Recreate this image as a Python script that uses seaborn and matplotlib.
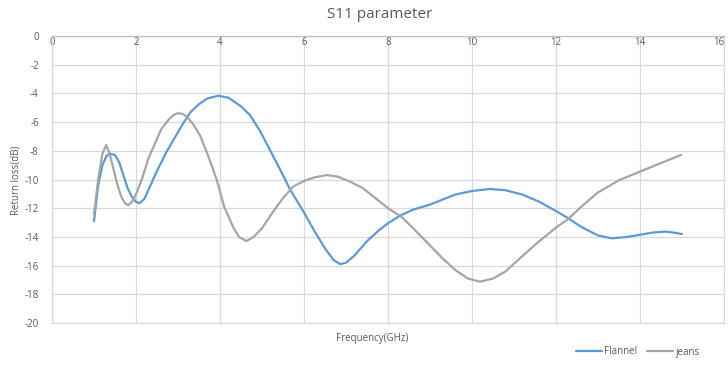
import matplotlib
matplotlib.use("Agg")
import matplotlib.pyplot as plt
import seaborn as sns
import pandas as pd

freq_flannel = [1.00, 1.10, 1.20, 1.30, 1.38, 1.50, 1.60, 1.70, 1.80, 1.90, 2.00, 2.08, 2.20, 2.33,
                2.50, 2.73, 2.90, 3.12, 3.30, 3.50, 3.70, 3.96, 4.20, 4.50, 4.71, 4.95, 5.20, 5.43,
                5.67, 6.00, 6.25, 6.50, 6.70, 6.86, 7.00, 7.20, 7.50, 7.80, 8.00, 8.30, 8.60, 9.00,
                9.30, 9.60, 10.00, 10.43, 10.80, 11.20, 11.60, 12.00, 12.29, 12.60, 13.00, 13.33,
                13.70, 14.00, 14.30, 14.60, 14.80, 15.00]
rl_flannel = [-12.9, -10.4, -9.0, -8.35, -8.2, -8.3, -8.8, -9.7, -10.6, -11.2, -11.55, -11.66, -11.35, -10.5,
              -9.4, -8.06, -7.2, -6.1, -5.3, -4.75, -4.35, -4.16, -4.3, -4.9, -5.5, -6.6, -8.0, -9.3,
              -10.7, -12.3, -13.6, -14.8, -15.6, -15.9, -15.8, -15.3, -14.3, -13.5, -13.05, -12.5, -12.1, -11.75,
              -11.4, -11.05, -10.8, -10.66, -10.75, -11.05, -11.55, -12.2, -12.7, -13.3, -13.9, -14.1,
              -14.0, -13.85, -13.7, -13.63, -13.7, -13.8]

freq_jeans = [1.00, 1.10, 1.20, 1.29, 1.36, 1.45, 1.55, 1.65, 1.75, 1.82, 1.92, 2.02, 2.15, 2.30, 2.45,
              2.60, 2.80, 2.92, 3.00, 3.10, 3.20, 3.35, 3.52, 3.70, 3.92, 4.10, 4.31, 4.45, 4.63, 4.80, 5.00, 5.25,
              5.50, 5.74, 6.00, 6.25, 6.54, 6.80, 7.10, 7.40, 7.70, 8.00, 8.32, 8.60, 9.00, 9.30, 9.60,
              9.90, 10.19, 10.50, 10.80, 11.10, 11.50, 12.00, 12.29, 12.60, 13.00, 13.50, 14.00, 14.50, 14.98]
rl_jeans = [-12.4, -10.0, -8.2, -7.6, -8.1, -9.1, -10.3, -11.2, -11.7, -11.78, -11.5, -10.9, -9.9, -8.5, -7.5,
            -6.5, -5.75, -5.45, -5.39, -5.42, -5.6, -6.1, -6.9, -8.2, -10.0, -11.9, -13.3, -14.0, -14.29, -14.0, -13.4, -12.3,
            -11.3, -10.5, -10.1, -9.85, -9.69, -9.8, -10.15, -10.6, -11.3, -12.0, -12.6, -13.4, -14.6, -15.5, -16.3,
            -16.9, -17.12, -16.9, -16.4, -15.6, -14.55, -13.35, -12.75, -11.9, -10.9, -10.05, -9.45, -8.85, -8.29]

series_names = ["Flannel", "jeans"]
x_ticks = [0, 2, 4, 6, 8, 10, 12, 14, 16]
y_ticks = [0, -2, -4, -6, -8, -10, -12, -14, -16, -18, -20]

df = pd.concat([
    pd.DataFrame({"Frequency": freq_flannel, "RL": rl_flannel, "series": series_names[0]}),
    pd.DataFrame({"Frequency": freq_jeans, "RL": rl_jeans, "series": series_names[1]}),
], ignore_index=True)

sns.set_style("white")
plt.rcParams["font.family"] = ["Open Sans", "DejaVu Sans"]

text_c = "#595959"
grid_c = "#d9d9d9"

fig = plt.figure(figsize=(7.28, 3.65), dpi=100)
ax = fig.add_axes([52/728, 1 - 323/365, (724-52)/728, (323-36)/365])

sns.lineplot(data=df, x="Frequency", y="RL", hue="series", sort=False, estimator=None,
             palette={"Flannel": "#5b9bd5", "jeans": "#a5a5a5"}, linewidth=1.6, ax=ax, legend=True)

ax.set_xlim(0, 16)
ax.set_ylim(-20, 0)
ax.set_xticks(x_ticks)
ax.set_yticks(y_ticks)
ax.set_xticklabels([str(t) for t in x_ticks])
ax.set_yticklabels([str(t) for t in y_ticks])
ax.grid(True, color=grid_c, linewidth=0.9)
ax.set_axisbelow(True)
for s in ax.spines.values():
    s.set_color(grid_c)
    s.set_linewidth(0.9)
ax.spines["top"].set_color("#bfbfbf")

ax.tick_params(axis="x", bottom=False, labelbottom=False, top=False, labeltop=True,
               pad=-12, labelsize=7, labelcolor=text_c)
ax.tick_params(axis="y", left=False, labelsize=7, labelcolor=text_c, pad=6)
ax.get_xticklabels(which="major")[-1].set_horizontalalignment("right")

ax.set_xlabel("")
ax.set_ylabel("")
fig.text(372/728, 1 - 338/365, "Frequency(GHz)", ha="center", va="center", fontsize=7, color=text_c)
fig.text(16/728, 1 - 180/365, "Return loss(dB)", ha="center", va="center", rotation=90,
         fontsize=7, color=text_c)
fig.text(380/728, 1 - 15/365, "S11 parameter", ha="center", va="center", fontsize=11, color=text_c)

handles, labels = ax.get_legend_handles_labels()
ax.legend_.remove()
fig.legend(handles, labels, loc="center", bbox_to_anchor=(638/728, 1 - 352/365), ncol=2, frameon=False,
           fontsize=7, labelcolor=text_c, handlelength=2.6, columnspacing=1.0, handletextpad=0.3)

fig.savefig("out.png", dpi=100)
